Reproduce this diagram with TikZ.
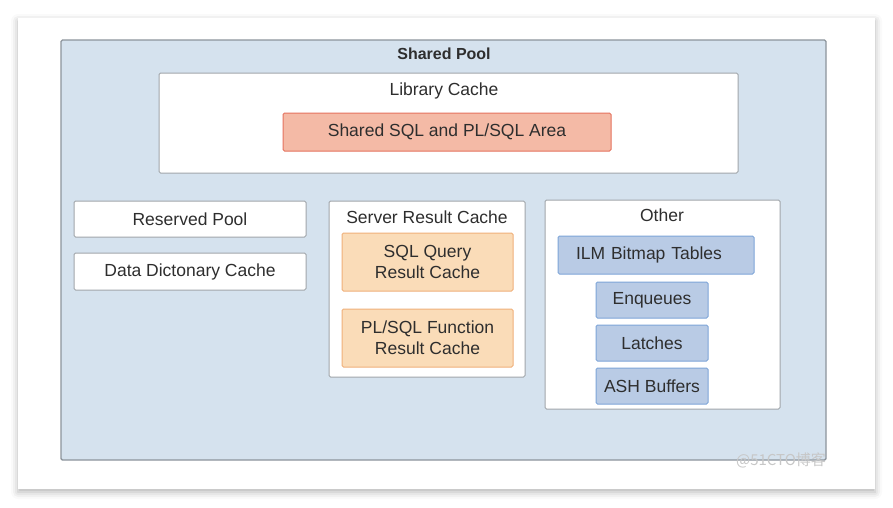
\documentclass[tikz,border=0pt]{standalone}
\usepackage{fontspec}
\setmainfont{Liberation Sans}
\newfontfamily\cjk{Noto Sans CJK SC}
\usetikzlibrary{positioning,shadows.blur}
\definecolor{poolfill}{HTML}{D5E2EE}
\definecolor{poolline}{HTML}{8C949C}
\definecolor{boxline}{HTML}{A0A5AA}
\definecolor{areafill}{HTML}{F4BAA6}
\definecolor{arealine}{HTML}{E5735F}
\definecolor{resfill}{HTML}{FADCB8}
\definecolor{resline}{HTML}{F0B07A}
\definecolor{memfill}{HTML}{B9CBE5}
\definecolor{memline}{HTML}{7EA5D8}
\definecolor{textgray}{HTML}{2E2E2E}

\begin{document}
\begin{tikzpicture}[x=1pt,y=-1pt,
      every node/.style={inner sep=0pt,font=\fontsize{17.5}{21}\selectfont,text=textgray},
      card/.style={fill=white,blur shadow={shadow xshift=0pt,shadow yshift=-3pt,shadow blur radius=7pt,shadow opacity=30}},
      pool/.style={draw=poolline,fill=poolfill,line width=1.4pt,rounded corners=1.5pt},
      box/.style={draw=boxline,fill=white,line width=1pt,rounded corners=1.5pt},
      area/.style={draw=arealine,fill=areafill,line width=1pt,rounded corners=1.5pt},
      res/.style={draw=resline,fill=resfill,line width=1pt,rounded corners=1.5pt,align=center,minimum width=171pt,minimum height=58pt},
      mem/.style={draw=memline,fill=memfill,line width=1pt,rounded corners=1.5pt,minimum width=112pt,minimum height=36pt}
    ]
      \useasboundingbox (0,0) rectangle (893,507);
      % card and shared pool
      \fill[card] (18,18) rectangle (875,489);
      \node[pool,minimum width=765pt,minimum height=420pt] (pool) at (443.5,250) {};
      \node[font=\fontsize{16}{19}\selectfont\bfseries] (pooltitle) at (444,54) {Shared Pool};

      % library cache
      \node[box,minimum width=579pt,minimum height=100pt] (lib) at (448.5,123) {};
      \node (libtitle) at (444,91) {Library Cache};
      \node[area,minimum width=328pt,minimum height=38pt] (sqlarea) at (447,132) {Shared SQL and PL/SQL Area};

      % left column
      \node[box,minimum width=232pt,minimum height=36pt] (reserved) at (190,219) {Reserved Pool};
      \node[box,minimum width=232pt,minimum height=37pt,below=15pt of reserved] (dict) {Data Dictonary Cache};

      % server result cache
      \node[box,minimum width=196pt,minimum height=176pt] (server) at (427,289) {};
      \node (servertitle) at (427,217) {Server Result Cache};
      \node[res] (sqlquery) at (427.5,262) {SQL Query\\Result Cache};
      \node[res,below=17pt of sqlquery] (plsql) {PL/SQL Function\\Result Cache};

      % other
      \node[box,minimum width=235pt,minimum height=209pt] (other) at (662.5,304.5) {};
      \node (othertitle) at (662,215) {Other};
      \node[mem,minimum width=196pt,minimum height=38pt,inner xsep=18pt,text width=160pt,align=left] (ilm) at (656,255) {ILM Bitmap Tables};
      \node[mem] (enq) at (652,300) {Enqueues};
      \node[mem,below=6pt of enq] (latches) {Latches};
      \node[mem,below=6pt of latches] (ash) {ASH Buffers};

      \node[font=\cjk\fontsize{15}{15}\selectfont,text=black!22] (mark) at (781,460) {@51CTO博客};
    \end{tikzpicture}
\end{document}
